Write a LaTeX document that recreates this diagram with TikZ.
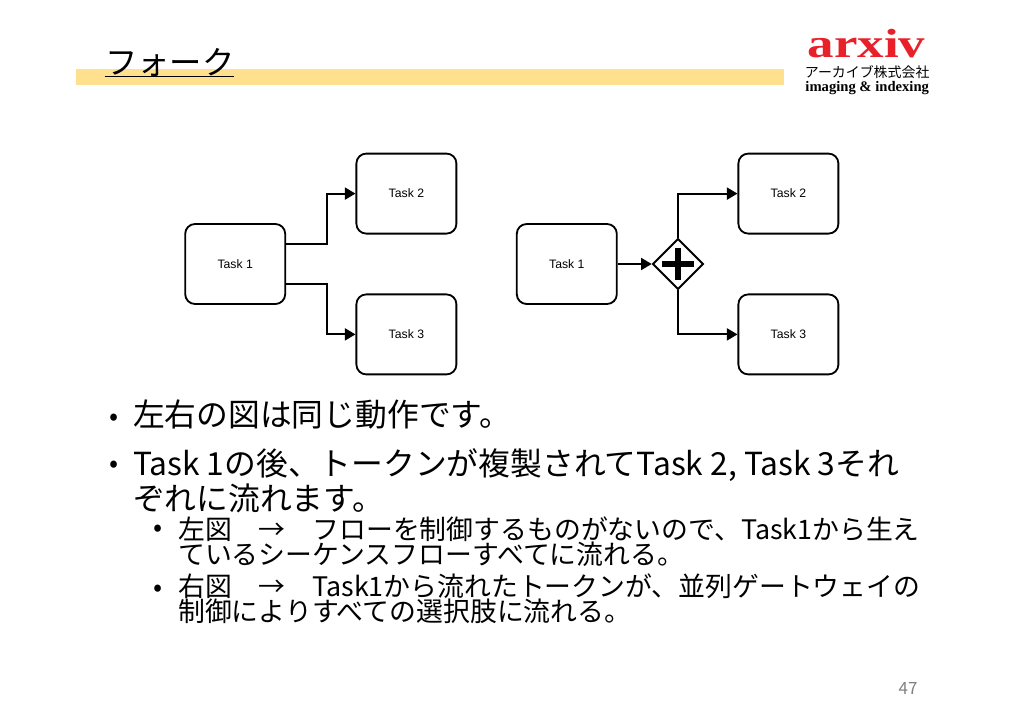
\documentclass[tikz,border=0pt]{standalone}
\usepackage{fontspec}
\setmainfont{Noto Sans CJK JP}
\newfontfamily\labelfont{Liberation Sans}
\newfontfamily\logofont{Liberation Serif}
\usepackage{xcolor}
\usepackage{tikz}
\usetikzlibrary{shapes.geometric, arrows.meta, positioning, calc}
\definecolor{bandyellow}{HTML}{FFE08F}
\definecolor{logored}{HTML}{E8202A}
\definecolor{pagegray}{HTML}{808080}

\begin{document}
\begin{tikzpicture}[
    task/.style={draw, line width=1.3pt, rounded corners=7pt, minimum width=2.5cm,
                minimum height=2cm, inner sep=0pt, font=\labelfont\fontsize{8.7}{10}\selectfont},
    arr/.style={-{Triangle[length=7.5pt,width=8.5pt]}, line width=1.3pt},
    gate/.style={draw, diamond, aspect=1, line width=1.3pt, minimum size=1.27cm, inner sep=0pt},
    bigitem/.style={anchor=north west, align=left, inner sep=0pt,
                font=\fontsize{22.6}{20}\selectfont},
    subitem/.style={anchor=north west, align=left, inner sep=0pt,
                font=\fontsize{19.1}{17.8}\selectfont},
    dotmark/.style={anchor=center, inner sep=0pt, font=\fontsize{19}{19}\selectfont}
  ]
    \useasboundingbox (0,0) rectangle (25.6,-18.1);
    % title band
    \fill[bandyellow] (1.9,-1.73) rectangle (19.6,-2.12);
    \node[anchor=base west, inner sep=0pt, font=\fontsize{23}{25}\selectfont] (title) at (2.62,-1.85) {フォーク};
    \coordinate (ula) at (2.62,-1.92);
    \coordinate (ulb) at (5.85,-1.92);
    \draw[line width=0.8pt] (ula) -- (ulb);
    % logo
    \node[inner sep=0pt, text=logored, xscale=1.3, font=\logofont\bfseries\fontsize{29}{29}\selectfont] (logo) at (21.66,-1.1) {arxiv};
    \node[inner sep=0pt, font=\fontsize{9.9}{11}\selectfont] (logoja) at (21.68,-1.81) {アーカイブ株式会社};
    \node[inner sep=0pt, font=\logofont\bfseries\fontsize{10.4}{11}\selectfont] (logoen) at (21.68,-2.2) {imaging \& indexing};
    % left figure
    \node[task] (lt1) at (5.88,-6.6) {Task 1};
    \node[task] (lt2) at (10.16,-4.84) {Task 2};
    \node[task] (lt3) at (10.16,-8.36) {Task 3};
    \draw[arr] ([yshift=0.5cm]lt1.east) -- ++(1.03,0) |- (lt2.west);
    \draw[arr] ([yshift=-0.5cm]lt1.east) -- ++(1.03,0) |- (lt3.west);
    % right figure
    \node[task] (rt1) at (14.17,-6.6) {Task 1};
    \node[task] (rt2) at (19.71,-4.84) {Task 2};
    \node[task] (rt3) at (19.71,-8.36) {Task 3};
    \node[gate] (gw) at (16.95,-6.6) {};
    \draw[line width=4.5pt] ([xshift=-0.4cm]gw.center) -- ([xshift=0.4cm]gw.center);
    \draw[line width=4.5pt] ([yshift=-0.4cm]gw.center) -- ([yshift=0.4cm]gw.center);
    \draw[arr] (rt1) -- (gw);
    \draw[arr] (gw.north) |- (rt2.west);
    \draw[arr] (gw.south) |- (rt3.west);
    % bullets
    \node[dotmark] (d1) at (2.85,-10.5) {•};
    \node[bigitem] (b1) at (3.32,-10.0) {左右の図は同じ動作です。};
    \node[dotmark] (d2) at (2.85,-11.68) {•};
    \node[bigitem] (b2) at (3.32,-11.22) {Task 1の後、トークンが複製されてTask 2, Task 3それ\\ぞれに流れます。};
    \node[dotmark] (d3) at (3.95,-13.28) {•};
    \node[subitem] (s1) at (4.45,-12.92) {左図　→　フローを制御するものがないので、Task1から生え\\ているシーケンスフローすべてに流れる。};
    \node[dotmark] (d4) at (3.95,-14.78) {•};
    \node[subitem] (s2) at (4.45,-14.33) {右図　→　Task1から流れたトークンが、並列ゲートウェイの\\制御によりすべての選択肢に流れる。};
    % page number
    \node[inner sep=0pt, text=pagegray, font=\fontsize{12}{14}\selectfont] (pageno) at (22.7,-17.22) {47};
  \end{tikzpicture}
\end{document}
